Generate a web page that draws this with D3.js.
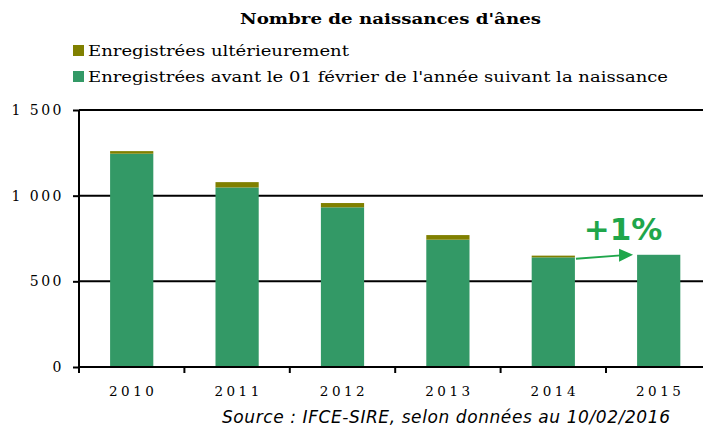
<!DOCTYPE html>
<html>
<head>
<meta charset="utf-8">
<script src="https://cdn.jsdelivr.net/npm/d3@7"></script>
<style>
  body { margin: 0; background: #fff; }
  svg { display: block; }
</style>
</head>
<body>
<div id="chart"></div>
<script>
'use strict'

const years = ['2010', '2011', '2012', '2013', '2014', '2015']
const avant = [1245, 1048, 932, 743, 640, 655]
const ulterieur = [15, 31, 25, 27, 10, 0]
const yTicks = [0, 500, 1000, 1500]
const legendLabels = [
  'Enregistrées ultérieurement',
  "Enregistrées avant le 01 février de l'année suivant la naissance"
]
const title = "Nombre de naissances d'ânes"
const source = 'Source : IFCE-SIRE, selon données au 10/02/2016'
const evolution = '+1%'

const width = 703
const height = 428
const serif = '"DejaVu Serif", Georgia, serif'
const colors = {avant: '#339966', ulterieur: '#808000', arrow: '#1fa64b'}

const svg = d3.select('#chart').append('svg')
  .attr('width', width)
  .attr('height', height)

const x = d3.scaleBand()
  .domain(years)
  .range([79, 79 + 6 * 105.4])
  .paddingInner(0.59)
  .paddingOuter(0.295)

const y = d3.scaleLinear()
  .domain([0, 1500])
  .range([367, 110])

const rows = years.map((yr, i) => ({year: yr, avant: avant[i], ulterieur: ulterieur[i]}))
const stack = d3.stack().keys(['avant', 'ulterieur'])(rows)

// title + legend
svg.append('text')
  .attr('x', 240).attr('y', 24)
  .attr('font-family', serif).attr('font-weight', 'bold').attr('font-size', 14)
  .attr('textLength', 301).attr('lengthAdjust', 'spacingAndGlyphs')
  .text(title)

const legend = svg.append('g').selectAll('g').data(legendLabels).enter().append('g')
  .attr('transform', (d, i) => `translate(73, ${45 + i * 26})`)
legend.append('rect')
  .attr('width', 11).attr('height', 11)
  .attr('fill', (d, i) => i === 0 ? colors.ulterieur : colors.avant)
legend.append('text')
  .attr('x', 15).attr('y', 11)
  .attr('font-family', serif).attr('font-size', 15)
  .attr('textLength', (d, i) => i === 0 ? 261 : 580)
  .attr('lengthAdjust', 'spacingAndGlyphs')
  .text(d => d)

// gridlines
svg.append('g').selectAll('line').data(yTicks.filter(d => d > 0)).enter().append('line')
  .attr('x1', 79).attr('x2', x.range()[1])
  .attr('y1', d => y(d)).attr('y2', d => y(d))
  .attr('stroke', '#000').attr('stroke-width', 2)

// bars
svg.append('g').selectAll('g').data(stack).enter().append('g')
  .attr('fill', d => colors[d.key])
  .selectAll('rect').data(d => d).enter().append('rect')
  .attr('x', d => x(d.data.year))
  .attr('width', x.bandwidth())
  .attr('y', d => y(d[1]))
  .attr('height', d => y(d[0]) - y(d[1]))

// y axis
const yAxis = svg.append('g')
  .attr('transform', 'translate(79, 0)')
  .call(d3.axisLeft(y).tickValues(yTicks).tickSize(6).tickPadding(9)
    .tickFormat(d => d3.format(',')(d).replace(',', ' ')))
yAxis.select('.domain').attr('stroke-width', 2).attr('d', `M0,${y(1500)}V${y(0) + 1}`)
yAxis.selectAll('.tick line').attr('stroke-width', 2)
yAxis.selectAll('.tick text')
  .attr('font-family', serif).attr('font-size', 14)
  .attr('letter-spacing', 2.5).attr('fill', '#000')

// x axis with ticks on band boundaries
const xAxis = svg.append('g')
xAxis.append('line')
  .attr('x1', 78).attr('x2', x.range()[1])
  .attr('y1', y(0)).attr('y2', y(0))
  .attr('stroke', '#000').attr('stroke-width', 2)
xAxis.selectAll('line.tick').data(years).enter().append('line')
  .attr('class', 'tick')
  .attr('x1', (d, i) => x.range()[0] + i * x.step())
  .attr('x2', (d, i) => x.range()[0] + i * x.step())
  .attr('y1', y(0)).attr('y2', y(0) + 6)
  .attr('stroke', '#000').attr('stroke-width', 2)
xAxis.selectAll('text').data(years).enter().append('text')
  .attr('x', d => x(d) + x.bandwidth() / 2 + 1.5)
  .attr('y', 396)
  .attr('text-anchor', 'middle')
  .attr('font-family', serif).attr('font-size', 13.5).attr('letter-spacing', 3.5)
  .text(d => d)

// evolution arrow 2014 -> 2015
const i14 = years.indexOf('2014')
const i15 = years.indexOf('2015')
const x0 = x('2014') + x.bandwidth() + 1
const x1 = x('2015') - 4
const y0 = y(avant[i14] + ulterieur[i14]) + 3
const y1 = y(avant[i15] + ulterieur[i15])
svg.append('line')
  .attr('x1', x0).attr('y1', y0).attr('x2', x1 - 12).attr('y2', y1 + 0.6)
  .attr('stroke', colors.arrow).attr('stroke-width', 2)
svg.append('path')
  .attr('d', `M${x1 - 14},${y1 - 6}L${x1},${y1}L${x1 - 14},${y1 + 7}Z`)
  .attr('fill', colors.arrow)
svg.append('text')
  .attr('x', 623).attr('y', 240)
  .attr('text-anchor', 'middle')
  .attr('font-family', '"DejaVu Sans", Verdana, sans-serif')
  .attr('font-weight', 'bold').attr('font-size', 31)
  .attr('fill', colors.arrow)
  .text(evolution)

// source
svg.append('text')
  .attr('x', 222).attr('y', 423)
  .attr('font-family', '"DejaVu Sans", Verdana, sans-serif')
  .attr('font-style', 'italic').attr('font-size', 17)
  .attr('textLength', 448).attr('lengthAdjust', 'spacing')
  .text(source)
</script>
</body>
</html>
